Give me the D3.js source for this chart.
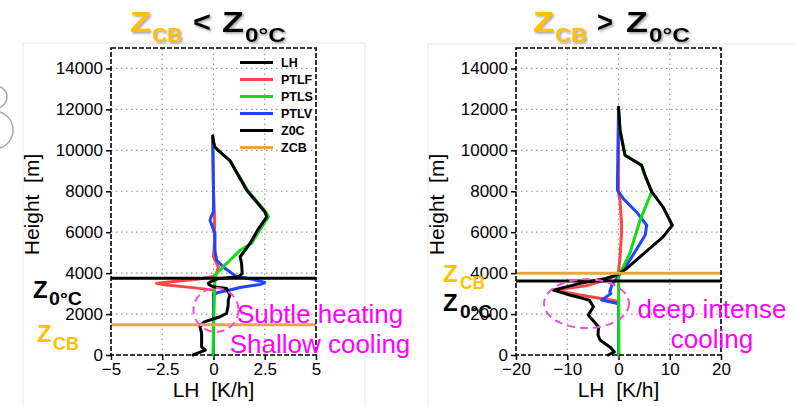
<!DOCTYPE html>
<html>
<head>
<meta charset="utf-8">
<script src="https://cdn.jsdelivr.net/npm/d3@7"></script>
<style>
  body { margin: 0; background: #fff; }
  svg { display: block; font-family: "Liberation Sans", Arial, sans-serif; }
</style>
</head>
<body>
<script>
// Heights in metres, heating rates in K/h, as [height, value]
const lhLow = [[0,-1.0],[240,-0.4],[400,-0.58],[1060,-0.58],[1380,-0.66],[1620,-0.45],[1870,0.32],
  [2030,0.64],[2440,0.72],[2680,0.72],[2930,0.8],[3250,0.64],[3330,0.0],[3420,-0.2],[3500,-0.25],
  [3600,-0.1],[3720,0.2],[3820,1.2],[3980,1.4],[4470,1.37],[4800,1.3],[5200,1.6],[5450,1.78],
  [6100,2.15],[6750,2.6],[7000,2.5],[8050,1.62],[8800,1.2],[9500,0.8],[10000,0.23],[10160,0.07],
  [10400,0.0],[10700,-0.04]];
const ptlfLow = [[0,0],[3170,0],[3280,-0.9],[3430,-2.4],[3500,-2.78],[3560,-2.3],[3700,-0.8],
  [3850,0.1],[4300,0.24],[4800,0.0],[5500,0.05],[6800,0.05],[8000,0],[10700,-0.04]];
const ptlsLow = [[0,-0.03],[3900,0.07],[4230,0.4],[4630,0.8],[5120,1.3],[5450,1.85],[6100,2.25],
  [6750,2.68],[7000,2.55],[8050,1.66],[8800,1.22],[9500,0.8],[10000,0.23],[10160,0.07],[10400,0],[10700,-0.04]];
const ptlvLow = [[0,0],[2950,0],[3050,0.2],[3150,0.7],[3300,1.3],[3450,2.3],[3550,2.5],[3700,1.9],
  [3850,1.1],[4200,0.6],[4630,0.15],[5120,0.07],[5930,0.07],[6580,-0.17],[6750,-0.12],[7000,0],
  [8000,0],[10700,-0.04]];
const z0cLow = 3750, zcbLow = 1480;

const lhHigh = [[0,-2.0],[150,-0.8],[350,-1.5],[730,-3.6],[980,-4.0],[1380,-3.9],[1950,-5.9],
  [2360,-4.9],[2680,-5.7],[2930,-9.5],[3170,-12.7],[3500,-7.5],[3740,-2.5],[3900,-0.35],[4230,1.6],
  [4800,4.2],[5770,8.7],[6340,10.5],[7230,8.7],[7970,6.5],[8780,5.17],[9270,4.5],[9760,1.27],
  [10980,0.3],[12110,0.0]];
const ptlfHigh = [[0,0],[2600,0],[2650,-0.7],[2930,-7.5],[3170,-12.4],[3400,-6],[3740,-1.7],
  [3900,-0.3],[4060,0],[4800,0.3],[5940,0.6],[6420,0.6],[7560,0.3],[7880,0],[12000,0]];
const ptlsHigh = [[0,0.1],[3800,0],[4000,0.2],[4150,0.6],[4960,2.2],[6580,4.2],[7560,5.8],[7970,6.5],
  [8780,5.17],[9270,4.5],[9760,1.27],[10980,0.3],[12110,0]];
const ptlvHigh = [[0,0],[2500,0],[2680,-3.3],[3000,-1.5],[3090,-1.7],[3410,-1.3],[3740,-0.35],
  [4060,0.6],[4630,2.2],[5850,5.2],[6340,5.5],[6990,3.5],[7640,0.94],[8050,-0.2],[8540,-0.2],[11950,0]];
const z0cHigh = 3620, zcbHigh = 4000;

const yTicks = [0, 2000, 4000, 6000, 8000, 10000, 12000, 14000];
const xTicksLow = [-5, -2.5, 0, 2.5, 5];
const xTicksHigh = [-20, -10, 0, 10, 20];
const legendNames = ["LH", "PTLF", "PTLS", "PTLV", "Z0C", "ZCB"];

const colors = { LH: "#000", PTLF: "#ff4646", PTLS: "#11dd11", PTLV: "#2244ff", Z0C: "#000", ZCB: "#e8a838" };
const gold = "#ffc000", magenta = "#ff00ff";

const svg = d3.select("body").append("svg").attr("width", 796).attr("height", 406);

const defs = svg.append("defs");
defs.append("filter").attr("id", "shadow").attr("x", "-10%").attr("y", "-10%").attr("width", "130%").attr("height", "140%")
  .append("feDropShadow").attr("dx", 1.5).attr("dy", 1.5).attr("stdDeviation", 1)
  .attr("flood-color", "#777").attr("flood-opacity", 0.7);

// faint panel frames and the cut-off decoration on the left edge
svg.append("rect").attr("x", 23).attr("y", 43).attr("width", 342).attr("height", 380)
  .attr("fill", "none").attr("stroke", "#e8e8e8");
svg.append("rect").attr("x", 428).attr("y", 44).attr("width", 380).attr("height", 380)
  .attr("fill", "none").attr("stroke", "#e8e8e8");
svg.append("circle").attr("cx", -4).attr("cy", 97).attr("r", 11).attr("fill", "none").attr("stroke", "#aaa").attr("stroke-width", 1.5);
svg.append("circle").attr("cx", -6).attr("cy", 130).attr("r", 19).attr("fill", "none").attr("stroke", "#aaa").attr("stroke-width", 1.5);

const y = d3.scaleLinear([0, 15000], [355, 48]);
const fmt = d => String(d).replace("-", "\u2212");

function panel({ x, xTicks, series, z0c, zcb, legend }) {
  const [x0, x1] = x.range();
  const [y0, y1] = y.range();
  const g = svg.append("g");

  // grid
  g.append("g").selectAll("line").data(yTicks.slice(1)).join("line")
    .attr("x1", x0).attr("x2", x1).attr("y1", d => y(d)).attr("y2", d => y(d))
    .attr("stroke", "#999").attr("stroke-width", 1.2).attr("stroke-dasharray", "1.5,3.5");
  g.append("g").selectAll("line").data(xTicks.slice(1, -1)).join("line")
    .attr("x1", d => x(d)).attr("x2", d => x(d)).attr("y1", y0).attr("y2", y1)
    .attr("stroke", "#999").attr("stroke-width", 1.2).attr("stroke-dasharray", "1.5,3.5");

  // axes
  g.append("g").attr("transform", `translate(0,${y0})`)
    .call(d3.axisBottom(x).tickValues(xTicks).tickFormat(fmt).tickSize(5).tickPadding(3))
    .call(a => a.select(".domain").remove())
    .call(a => a.selectAll("line").attr("stroke-width", 1.5))
    .call(a => a.selectAll("text").attr("font-size", 17).attr("fill", "#000"));
  g.append("g").attr("transform", `translate(${x0},0)`)
    .call(d3.axisLeft(y).tickValues(yTicks).tickFormat(fmt).tickSize(5).tickPadding(3))
    .call(a => a.select(".domain").remove())
    .call(a => a.selectAll("line").attr("stroke-width", 1.5))
    .call(a => a.selectAll("text").attr("font-size", 17).attr("fill", "#000"));

  // curves
  const line = d3.line().x(d => x(d[1])).y(d => y(d[0]));
  for (const [name, data] of series) {
    g.append("path").datum(data).attr("d", line)
      .attr("fill", "none").attr("stroke", colors[name]).attr("stroke-width", 3)
      .attr("stroke-linejoin", "round").attr("stroke-linecap", "round");
  }

  // reference levels
  g.append("line").attr("x1", x0).attr("x2", x1).attr("y1", y(z0c)).attr("y2", y(z0c))
    .attr("stroke", colors.Z0C).attr("stroke-width", 3);
  g.append("line").attr("x1", x0).attr("x2", x1).attr("y1", y(zcb)).attr("y2", y(zcb))
    .attr("stroke", colors.ZCB).attr("stroke-width", 3);

  // frame
  g.append("rect").attr("x", x0).attr("y", y1).attr("width", x1 - x0).attr("height", y0 - y1)
    .attr("fill", "none").attr("stroke", "#000").attr("stroke-width", 1.6).attr("stroke-dasharray", "5,2");

  // axis titles
  g.append("text").attr("x", (x0 + x1) / 2).attr("y", 397).attr("text-anchor", "middle")
    .attr("font-size", 21).style("white-space", "pre").text("LH  [K/h]");
  g.append("text").attr("transform", `translate(${x0 - 72},${(y0 + y1) / 2 + 3}) rotate(-90)`)
    .attr("text-anchor", "middle").attr("font-size", 21).style("white-space", "pre").text("Height  [m]");

  if (legend) {
    const lg = g.append("g").selectAll("g").data(legendNames).join("g")
      .attr("transform", (d, i) => `translate(240,${62.5 + i * 17})`);
    lg.append("line").attr("x2", 33).attr("stroke", d => colors[d]).attr("stroke-width", 3);
    lg.append("text").attr("x", 41).attr("dy", "0.36em").attr("font-size", 12.5)
      .attr("font-weight", "bold").text(d => d);
  }
  return g;
}

const xLow = d3.scaleLinear([-5, 5], [111, 316]);
const xHigh = d3.scaleLinear([-20, 20], [516, 721]);

// draw order: red, blue, green, black (green stays visible along zero)
panel({ x: xLow, xTicks: xTicksLow, z0c: z0cLow, zcb: zcbLow, legend: true,
  series: [["PTLF", ptlfLow], ["PTLV", ptlvLow], ["PTLS", ptlsLow], ["LH", lhLow]] });
panel({ x: xHigh, xTicks: xTicksHigh, z0c: z0cHigh, zcb: zcbHigh, legend: false,
  series: [["PTLF", ptlfHigh], ["PTLV", ptlvHigh], ["PTLS", ptlsHigh], ["LH", lhHigh]] });

// titles: pieces with measured widths
function piece(txt, x, yb, size, w, color, shadow) {
  const t = svg.append("text").attr("x", x).attr("y", yb).attr("font-size", size)
    .attr("font-weight", "bold").attr("fill", color).text(txt);
  if (w) t.attr("textLength", w).attr("lengthAdjust", "spacingAndGlyphs");
  if (shadow) t.attr("filter", "url(#shadow)");
  return t;
}
piece("Z", 130, 32, 29, 21, gold, true);
piece("CB", 152, 42, 21, 30, gold, true);
piece("<", 193, 32, 29, 18, "#000", true);
piece("Z", 222, 32, 29, 22, "#000", true);
piece("0\u00b0C", 245, 42, 21, 41, "#000", true);

piece("Z", 533, 32, 29, 21, gold, true);
piece("CB", 555, 42, 21, 32, gold, true);
piece(">", 597, 32, 29, 16, "#000", true);
piece("Z", 626, 32, 29, 22, "#000", true);
piece("0\u00b0C", 649, 42, 21, 41, "#000", true);

// level labels beside the axes
piece("Z", 33, 298, 24, 0, "#000");
piece("0\u00b0C", 49, 305, 19, 33, "#000");
piece("Z", 37, 342, 24, 0, gold);
piece("CB", 53, 350, 19, 26, gold);
piece("Z", 443, 282, 24, 0, gold);
piece("CB", 460, 289, 19, 25, gold);
piece("Z", 443, 311, 24, 0, "#000");
piece("0\u00b0C", 460, 318, 19, 32, "#000");

// annotations
function ellipse(x, cx, cy, rx, ry) {
  svg.append("ellipse").attr("cx", x(cx)).attr("cy", y(cy))
    .attr("rx", x(cx + rx) - x(cx)).attr("ry", y(cy - ry) - y(cy))
    .attr("fill", "none").attr("stroke", "#f050d8").attr("stroke-width", 2).attr("stroke-dasharray", "8,5");
}
ellipse(xLow, 0.12, 2200, 1.1, 1070);
ellipse(xHigh, -6.24, 2510, 8.3, 1195);

const note = (lines, cx, yb) => svg.append("text").attr("text-anchor", "middle")
  .attr("font-size", 26).attr("fill", magenta)
  .selectAll("tspan").data(lines).join("tspan")
  .attr("x", cx).attr("y", (d, i) => yb + i * 30).text(d => d);
note(["Subtle heating", "Shallow cooling"], 320, 323);
note(["deep intense", "cooling"], 712, 318);
</script>
</body>
</html>
